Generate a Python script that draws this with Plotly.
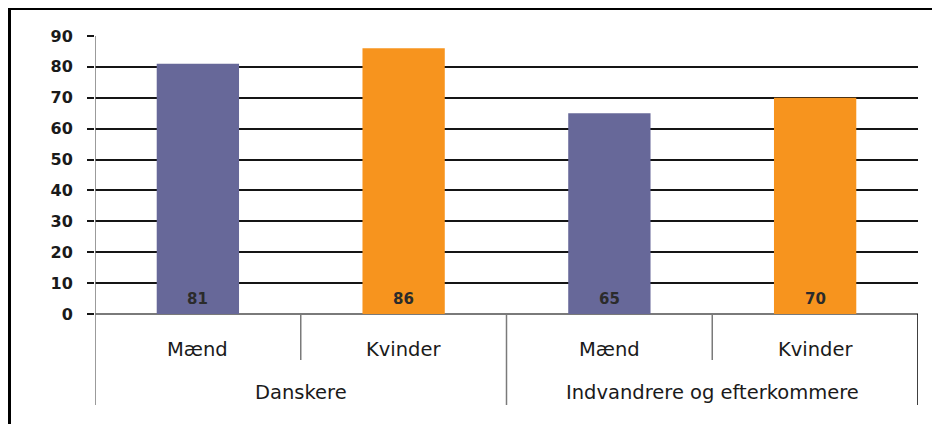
import plotly.graph_objects as go

groups = ["Danskere", "Indvandrere og efterkommere"]
categories = ["Mænd", "Kvinder", "Mænd", "Kvinder"]
category_group = [0, 0, 1, 1]
values = [81, 86, 65, 70]
bar_colors = ["#676899", "#F7941E", "#676899", "#F7941E"]
y_ticks = [0, 10, 20, 30, 40, 50, 60, 70, 80, 90]

# page body has an 8px margin; lay the figure out in page pixels minus that offset
OFF = 8
W, H = 940 - OFF, 424 - OFF
PLOT_L, PLOT_R, PLOT_T, PLOT_B = 95, 918, 36, 314  # page pixel coords
ML, MR, MT, MB = PLOT_L - OFF, (940 - OFF) - (PLOT_R - OFF), PLOT_T - OFF, (424 - OFF) - (PLOT_B - OFF)
PW, PH = W - ML - MR, H - MT - MB

def ypaper(py):
    return (PLOT_B - py) / PH

def xpaper(px):
    return (px - PLOT_L) / PW

xs = list(range(len(categories)))

fig = go.Figure()
fig.add_trace(go.Bar(
    x=xs, y=values, width=0.4,
    marker=dict(color=bar_colors, line=dict(width=0)),
    hoverinfo="skip", showlegend=False,
))

FONT = "DejaVu Sans"
shapes = []
shapes.append(dict(type="rect", xref="paper", yref="paper",
                   x0=xpaper(9.5), x1=1.3, y0=-0.6, y1=ypaper(8.5),
                   line=dict(color="#000000", width=3), fillcolor="white", layer="below"))

sub_bottom = ypaper(360)
grp_bottom = ypaper(405)
n = len(categories)
for b in range(n + 1):
    xpos = b - 0.5
    if b == 0 or b == n:
        y0 = grp_bottom
    elif category_group[b - 1] != category_group[b]:
        y0 = grp_bottom
    else:
        y0 = sub_bottom
    color = "#000000" if b == n else "#7a7a7a"
    shapes.append(dict(type="line", xref="x", yref="paper", x0=xpos, x1=xpos,
                       y0=y0, y1=1 if b == 0 else 0,
                       line=dict(color=color, width=1.5), layer="above"))

annotations = []
for i, (c, v) in enumerate(zip(categories, values)):
    annotations.append(dict(x=i, y=ypaper(349), xref="x", yref="paper", text=c,
                            showarrow=False, yanchor="middle",
                            font=dict(family=FONT, size=19.5, color="#1a1a1a")))
    annotations.append(dict(x=i, y=0, xref="x", yref="y", text=str(v),
                            showarrow=False, yanchor="middle", yshift=15,
                            font=dict(family=FONT, size=15, color="#2b2b2b", weight="bold")))
for g, name in enumerate(groups):
    idx = [i for i, cg in enumerate(category_group) if cg == g]
    xc = (min(idx) + max(idx)) / 2
    annotations.append(dict(x=xc, y=ypaper(392.5), xref="x", yref="paper", text=name,
                            showarrow=False, yanchor="middle",
                            font=dict(family=FONT, size=19.5, color="#1a1a1a")))

fig.update_layout(
    width=W, height=H,
    margin=dict(l=ML, r=MR, t=MT, b=MB),
    paper_bgcolor="#d4dce5",
    plot_bgcolor="white",
    shapes=shapes,
    annotations=annotations,
    xaxis=dict(range=[-0.5, n - 0.5], showticklabels=False, showgrid=False,
               zeroline=False, showline=False, ticks="", fixedrange=True),
    yaxis=dict(range=[0, 90], tickvals=y_ticks, ticktext=[str(t) for t in y_ticks],
               showgrid=True, gridcolor="#151515", gridwidth=1.5,
               zeroline=True, zerolinecolor="#7a7a7a", zerolinewidth=1.5,
               ticks="outside", ticklen=7, tickcolor="#151515", tickwidth=1.5,
               ticklabelstandoff=11,
               tickfont=dict(family=FONT, size=16, color="#1a1a1a", weight="bold"),
               showline=False, fixedrange=True),
    bargap=0.6,
)

fig.write_html("out.html")
